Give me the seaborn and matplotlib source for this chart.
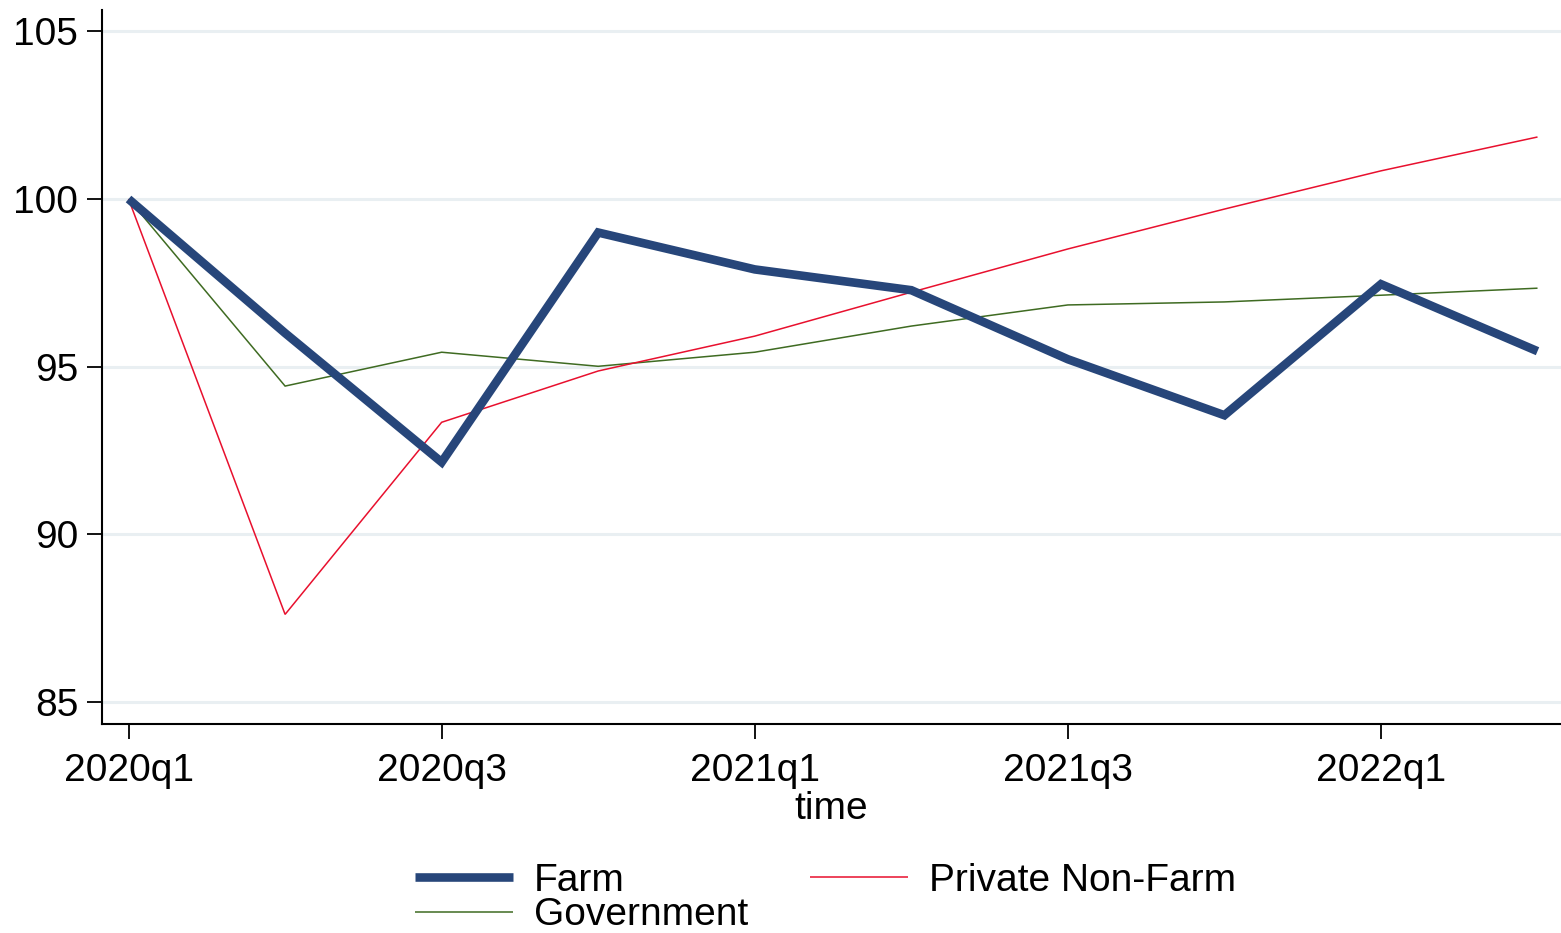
import matplotlib
matplotlib.use("Agg")
import matplotlib.pyplot as plt
import seaborn as sns
import pandas as pd

# Quarterly employment index by sector (2020q1 = 100)
quarters = ["2020q1", "2020q2", "2020q3", "2020q4", "2021q1",
            "2021q2", "2021q3", "2021q4", "2022q1", "2022q2"]
farm = [100.0, 96.0, 92.15, 99.0, 97.9, 97.28, 95.22, 93.55, 97.46, 95.46]
private_nonfarm = [100.0, 87.61, 93.34, 94.87, 95.91, 97.22, 98.51, 99.70, 100.84, 101.85]
government = [100.0, 94.42, 95.43, 95.01, 95.43, 96.21, 96.84, 96.93, 97.13, 97.34]

y_ticks = [85, 90, 95, 100, 105]
x_tick_labels = ["2020q1", "2020q3", "2021q1", "2021q3", "2022q1"]

sns.set_theme(style="white")
plt.rcParams["font.family"] = ["Liberation Sans", "DejaVu Sans"]
plt.rcParams["text.color"] = "black"
plt.rcParams["axes.labelcolor"] = "black"
plt.rcParams["xtick.color"] = "black"
plt.rcParams["ytick.color"] = "black"

df = pd.DataFrame({
    "t": list(range(len(quarters))) * 3,
    "value": farm + private_nonfarm + government,
    "series": ["Farm"] * len(quarters) + ["Private Non-Farm"] * len(quarters)
              + ["Government"] * len(quarters),
})

styles = {
    "Farm": dict(color="#27467a", lw=6.2),
    "Private Non-Farm": dict(color="#e8102e", lw=1.1),
    "Government": dict(color="#3f6b22", lw=1.1),
}

fig = plt.figure(figsize=(15.61, 9.33), dpi=100)
ax = fig.add_axes([0.0653, 0.224, 0.9347, 0.765])

for name in ["Government", "Private Non-Farm", "Farm"]:
    sub = df[df["series"] == name]
    sns.lineplot(data=sub, x="t", y="value", ax=ax, color=styles[name]["color"],
                 linewidth=styles[name]["lw"], label=name, legend=False,
                 solid_joinstyle="miter", solid_capstyle="butt")

ax.set_xlim(-0.17, 9.15)
ax.set_ylim(84.34, 105.63)
ax.set_yticks(y_ticks)
ax.set_yticklabels([str(v) for v in y_ticks])
ax.set_xticks([quarters.index(q) for q in x_tick_labels])
ax.set_xticklabels(x_tick_labels)

ax.grid(axis="y", color="#e9eff2", linewidth=2.2)
ax.grid(axis="x", visible=False)
for s in ["top", "right"]:
    ax.spines[s].set_visible(False)
for s in ["left", "bottom"]:
    ax.spines[s].set_color("black")
    ax.spines[s].set_linewidth(1.5)

ax.tick_params(axis="both", which="major", labelsize=28, length=11, width=1.3,
               color="black", labelcolor="black", direction="out",
               left=True, bottom=True)
ax.tick_params(axis="x", pad=10)
ax.tick_params(axis="y", pad=6)
ax.set_ylabel("")
ax.set_xlabel("time", fontsize=28, labelpad=1, color="black")

handles, labels = ax.get_legend_handles_labels()
lookup = dict(zip(labels, handles))
order = ["Farm", "Government", "Private Non-Farm"]
fig.legend([lookup[k] for k in order], order, ncol=2, loc="upper center",
           bbox_to_anchor=(0.529, 0.096), frameon=False, fontsize=28,
           handlelength=2.5, handletextpad=0.55, columnspacing=1.6,
           labelspacing=-0.04, borderpad=0.0, labelcolor="black")

fig.savefig("out.png", dpi=100)
